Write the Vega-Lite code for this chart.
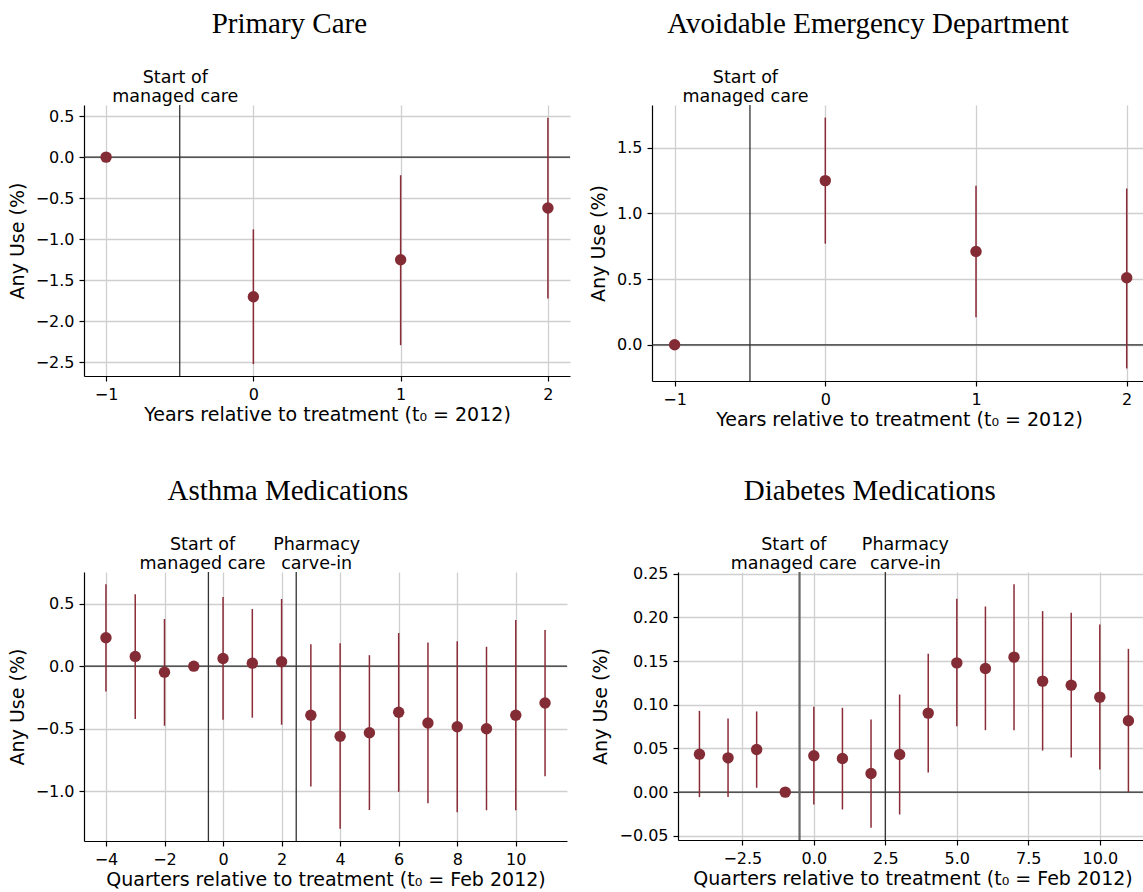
{
  "$schema": "https://vega.github.io/schema/vega-lite/v6.json",
  "padding": {"left": 8, "top": 9, "right": 0, "bottom": 0},
  "background": "white",
  "spacing": 47,
  "datasets": {
    "primary": [
      {"t": -1, "est": 0, "lo": 0, "hi": 0},
      {"t": 0, "est": -1.70, "lo": -2.52, "hi": -0.88},
      {"t": 1, "est": -1.25, "lo": -2.29, "hi": -0.22},
      {"t": 2, "est": -0.62, "lo": -1.72, "hi": 0.48}
    ],
    "ed": [
      {"t": -1, "est": 0, "lo": 0, "hi": 0},
      {"t": 0, "est": 1.25, "lo": 0.77, "hi": 1.73},
      {"t": 1, "est": 0.71, "lo": 0.21, "hi": 1.21},
      {"t": 2, "est": 0.51, "lo": -0.18, "hi": 1.19}
    ],
    "asthma": [
      {"t": -4, "est": 0.227, "lo": -0.203, "hi": 0.655},
      {"t": -3, "est": 0.078, "lo": -0.422, "hi": 0.575},
      {"t": -2, "est": -0.048, "lo": -0.476, "hi": 0.377},
      {"t": -1, "est": 0, "lo": 0, "hi": 0},
      {"t": 0, "est": 0.061, "lo": -0.428, "hi": 0.553},
      {"t": 1, "est": 0.024, "lo": -0.412, "hi": 0.457},
      {"t": 2, "est": 0.035, "lo": -0.468, "hi": 0.537},
      {"t": 3, "est": -0.393, "lo": -0.963, "hi": 0.176},
      {"t": 4, "est": -0.561, "lo": -1.30, "hi": 0.184},
      {"t": 5, "est": -0.532, "lo": -1.15, "hi": 0.088},
      {"t": 6, "est": -0.369, "lo": -1.005, "hi": 0.265},
      {"t": 7, "est": -0.455, "lo": -1.096, "hi": 0.19},
      {"t": 8, "est": -0.484, "lo": -1.168, "hi": 0.20},
      {"t": 9, "est": -0.5, "lo": -1.152, "hi": 0.155},
      {"t": 10, "est": -0.393, "lo": -1.152, "hi": 0.369},
      {"t": 11, "est": -0.294, "lo": -0.88, "hi": 0.289}
    ],
    "diabetes": [
      {"t": -4, "est": 0.0435, "lo": -0.0057, "hi": 0.0931},
      {"t": -3, "est": 0.0393, "lo": -0.0057, "hi": 0.0844},
      {"t": -2, "est": 0.0489, "lo": 0.005, "hi": 0.0924},
      {"t": -1, "est": 0, "lo": 0, "hi": 0},
      {"t": 0, "est": 0.0416, "lo": -0.0141, "hi": 0.0977},
      {"t": 1, "est": 0.0385, "lo": -0.0198, "hi": 0.0966},
      {"t": 2, "est": 0.0214, "lo": -0.0408, "hi": 0.0832},
      {"t": 3, "est": 0.0431, "lo": -0.0256, "hi": 0.1118},
      {"t": 4, "est": 0.0905, "lo": 0.0225, "hi": 0.1584},
      {"t": 5, "est": 0.148, "lo": 0.0756, "hi": 0.2214},
      {"t": 6, "est": 0.1416, "lo": 0.071, "hi": 0.2126},
      {"t": 7, "est": 0.1546, "lo": 0.071, "hi": 0.2382},
      {"t": 8, "est": 0.1271, "lo": 0.0477, "hi": 0.2073},
      {"t": 9, "est": 0.1225, "lo": 0.0397, "hi": 0.2053},
      {"t": 10, "est": 0.1088, "lo": 0.026, "hi": 0.192},
      {"t": 11, "est": 0.0817, "lo": 0.0, "hi": 0.1641}
    ]
  },
  "vconcat": [
    {
      "spacing": 18,
      "hconcat": [
        {
          "title": {"text": "Primary Care", "offset": 30},
          "width": 486, "height": 271,
          "layer": [
            {"data": {"values": [{}]}, "mark": {"type": "rule", "color": "#2b2b2b", "strokeWidth": 1.3},
             "encoding": {"y": {"datum": 0, "type": "quantitative", "scale": {"domain": [-2.665, 0.635], "nice": false, "zero": false}, "axis": {"title": "Any Use (%)", "values": [-2.5, -2, -1.5, -1, -0.5, 0, 0.5], "format": ".1f"}}}},
            {"data": {"values": [{}]}, "mark": {"type": "rule", "color": "#333333", "strokeWidth": 1.3},
             "encoding": {"x": {"datum": -0.5, "type": "quantitative", "scale": {"domain": [-1.15, 2.15], "nice": false, "zero": false}, "axis": {"title": "Years relative to treatment (t₀ = 2012)", "values": [-1, 0, 1, 2], "format": "d"}}}},
            {"data": {"name": "primary"}, "mark": {"type": "rule", "color": "#8a2c37", "strokeWidth": 1.5},
             "encoding": {
               "x": {"field": "t", "type": "quantitative", "scale": {"domain": [-1.15, 2.15], "nice": false, "zero": false}, "axis": {"title": "Years relative to treatment (t₀ = 2012)", "values": [-1, 0, 1, 2], "format": "d"}},
               "y": {"field": "lo", "type": "quantitative", "scale": {"domain": [-2.665, 0.635], "nice": false, "zero": false}, "axis": {"title": "Any Use (%)", "values": [-2.5, -2, -1.5, -1, -0.5, 0, 0.5], "format": ".1f"}},
               "y2": {"field": "hi"}}},
            {"data": {"name": "primary"}, "mark": {"type": "circle", "color": "#842c35", "size": 130, "opacity": 1},
             "encoding": {
               "x": {"field": "t", "type": "quantitative", "scale": {"domain": [-1.15, 2.15], "nice": false, "zero": false}, "axis": {"title": "Years relative to treatment (t₀ = 2012)", "values": [-1, 0, 1, 2], "format": "d"}},
               "y": {"field": "est", "type": "quantitative", "scale": {"domain": [-2.665, 0.635], "nice": false, "zero": false}, "axis": {"title": "Any Use (%)", "values": [-2.5, -2, -1.5, -1, -0.5, 0, 0.5], "format": ".1f"}}}},
            {"data": {"values": [{}]}, "mark": {"type": "text", "text": "Start of\nmanaged care", "lineBreak": "\n", "fontSize": 17.5, "baseline": "bottom", "align": "center", "lineHeight": 19.5, "color": "#000000"},
             "encoding": {
               "x": {"datum": -0.53, "type": "quantitative", "scale": {"domain": [-1.15, 2.15], "nice": false, "zero": false}},
               "y": {"datum": 0.858, "type": "quantitative", "scale": {"domain": [-2.665, 0.635], "nice": false, "zero": false}}}}
          ]
        },
        {
          "title": {"text": "Avoidable Emergency Department", "offset": 30},
          "width": 494, "height": 276,
          "layer": [
            {"data": {"values": [{}]}, "mark": {"type": "rule", "color": "#2b2b2b", "strokeWidth": 1.3},
             "encoding": {"y": {"datum": 0, "type": "quantitative", "scale": {"domain": [-0.2755, 1.8255], "nice": false, "zero": false}, "axis": {"title": "Any Use (%)", "values": [0, 0.5, 1, 1.5], "format": ".1f"}}}},
            {"data": {"values": [{}]}, "mark": {"type": "rule", "color": "#333333", "strokeWidth": 1.3},
             "encoding": {"x": {"datum": -0.5, "type": "quantitative", "scale": {"domain": [-1.15, 2.128], "nice": false, "zero": false}, "axis": {"title": "Years relative to treatment (t₀ = 2012)", "values": [-1, 0, 1, 2], "format": "d"}}}},
            {"data": {"name": "ed"}, "mark": {"type": "rule", "color": "#8a2c37", "strokeWidth": 1.5},
             "encoding": {
               "x": {"field": "t", "type": "quantitative", "scale": {"domain": [-1.15, 2.128], "nice": false, "zero": false}, "axis": {"title": "Years relative to treatment (t₀ = 2012)", "values": [-1, 0, 1, 2], "format": "d"}},
               "y": {"field": "lo", "type": "quantitative", "scale": {"domain": [-0.2755, 1.8255], "nice": false, "zero": false}, "axis": {"title": "Any Use (%)", "values": [0, 0.5, 1, 1.5], "format": ".1f"}},
               "y2": {"field": "hi"}}},
            {"data": {"name": "ed"}, "mark": {"type": "circle", "color": "#842c35", "size": 130, "opacity": 1},
             "encoding": {
               "x": {"field": "t", "type": "quantitative", "scale": {"domain": [-1.15, 2.128], "nice": false, "zero": false}, "axis": {"title": "Years relative to treatment (t₀ = 2012)", "values": [-1, 0, 1, 2], "format": "d"}},
               "y": {"field": "est", "type": "quantitative", "scale": {"domain": [-0.2755, 1.8255], "nice": false, "zero": false}, "axis": {"title": "Any Use (%)", "values": [0, 0.5, 1, 1.5], "format": ".1f"}}}},
            {"data": {"values": [{}]}, "mark": {"type": "text", "text": "Start of\nmanaged care", "lineBreak": "\n", "fontSize": 17.5, "baseline": "bottom", "align": "center", "lineHeight": 19.5, "color": "#000000"},
             "encoding": {
               "x": {"datum": -0.53, "type": "quantitative", "scale": {"domain": [-1.15, 2.128], "nice": false, "zero": false}},
               "y": {"datum": 1.965, "type": "quantitative", "scale": {"domain": [-0.2755, 1.8255], "nice": false, "zero": false}}}}
          ]
        }
      ]
    },
    {
      "spacing": 23,
      "hconcat": [
        {
          "title": {"text": "Asthma Medications", "offset": 30},
          "width": 483, "height": 269,
          "layer": [
            {"data": {"values": [{}]}, "mark": {"type": "rule", "color": "#2b2b2b", "strokeWidth": 1.3},
             "encoding": {"y": {"datum": 0, "type": "quantitative", "scale": {"domain": [-1.398, 0.753], "nice": false, "zero": false}, "axis": {"title": "Any Use (%)", "values": [-1, -0.5, 0, 0.5], "format": ".1f"}}}},
            {"data": {"values": [{}]}, "mark": {"type": "rule", "color": "#333333", "strokeWidth": 1.3},
             "encoding": {"x": {"datum": -0.5, "type": "quantitative", "scale": {"domain": [-4.75, 11.75], "nice": false, "zero": false}, "axis": {"title": "Quarters relative to treatment (t₀ = Feb 2012)", "values": [-4, -2, 0, 2, 4, 6, 8, 10], "format": "d"}}}},
            {"data": {"values": [{}]}, "mark": {"type": "rule", "color": "#333333", "strokeWidth": 1.3},
             "encoding": {"x": {"datum": 2.5, "type": "quantitative", "scale": {"domain": [-4.75, 11.75], "nice": false, "zero": false}}}},
            {"data": {"name": "asthma"}, "mark": {"type": "rule", "color": "#8a2c37", "strokeWidth": 1.5},
             "encoding": {
               "x": {"field": "t", "type": "quantitative", "scale": {"domain": [-4.75, 11.75], "nice": false, "zero": false}, "axis": {"title": "Quarters relative to treatment (t₀ = Feb 2012)", "values": [-4, -2, 0, 2, 4, 6, 8, 10], "format": "d"}},
               "y": {"field": "lo", "type": "quantitative", "scale": {"domain": [-1.398, 0.753], "nice": false, "zero": false}, "axis": {"title": "Any Use (%)", "values": [-1, -0.5, 0, 0.5], "format": ".1f"}},
               "y2": {"field": "hi"}}},
            {"data": {"name": "asthma"}, "mark": {"type": "circle", "color": "#842c35", "size": 130, "opacity": 1},
             "encoding": {
               "x": {"field": "t", "type": "quantitative", "scale": {"domain": [-4.75, 11.75], "nice": false, "zero": false}, "axis": {"title": "Quarters relative to treatment (t₀ = Feb 2012)", "values": [-4, -2, 0, 2, 4, 6, 8, 10], "format": "d"}},
               "y": {"field": "est", "type": "quantitative", "scale": {"domain": [-1.398, 0.753], "nice": false, "zero": false}, "axis": {"title": "Any Use (%)", "values": [-1, -0.5, 0, 0.5], "format": ".1f"}}}},
            {"data": {"values": [{}]}, "mark": {"type": "text", "text": "Start of\nmanaged care", "lineBreak": "\n", "fontSize": 17.5, "baseline": "bottom", "align": "center", "lineHeight": 19.5, "color": "#000000"},
             "encoding": {
               "x": {"datum": -0.7, "type": "quantitative", "scale": {"domain": [-4.75, 11.75], "nice": false, "zero": false}},
               "y": {"datum": 0.899, "type": "quantitative", "scale": {"domain": [-1.398, 0.753], "nice": false, "zero": false}}}},
            {"data": {"values": [{}]}, "mark": {"type": "text", "text": "Pharmacy\ncarve-in", "lineBreak": "\n", "fontSize": 17.5, "baseline": "bottom", "align": "center", "lineHeight": 19.5, "color": "#000000"},
             "encoding": {
               "x": {"datum": 3.2, "type": "quantitative", "scale": {"domain": [-4.75, 11.75], "nice": false, "zero": false}},
               "y": {"datum": 0.899, "type": "quantitative", "scale": {"domain": [-1.398, 0.753], "nice": false, "zero": false}}}}
          ]
        },
        {
          "title": {"text": "Diabetes Medications", "offset": 30},
          "width": 469, "height": 268,
          "layer": [
            {"data": {"values": [{}]}, "mark": {"type": "rule", "color": "#2b2b2b", "strokeWidth": 1.3},
             "encoding": {"y": {"datum": 0, "type": "quantitative", "scale": {"domain": [-0.0548, 0.2521], "nice": false, "zero": false}, "axis": {"title": "Any Use (%)", "values": [-0.05, 0, 0.05, 0.1, 0.15, 0.2, 0.25], "format": ".2f"}}}},
            {"data": {"values": [{}]}, "mark": {"type": "rule", "color": "#666666", "strokeWidth": 2.2},
             "encoding": {"x": {"datum": -0.5, "type": "quantitative", "scale": {"domain": [-4.75, 11.65], "nice": false, "zero": false}, "axis": {"title": "Quarters relative to treatment (t₀ = Feb 2012)", "values": [-2.5, 0, 2.5, 5, 7.5, 10], "format": ".1f"}}}},
            {"data": {"values": [{}]}, "mark": {"type": "rule", "color": "#333333", "strokeWidth": 1.3},
             "encoding": {"x": {"datum": 2.5, "type": "quantitative", "scale": {"domain": [-4.75, 11.65], "nice": false, "zero": false}}}},
            {"data": {"name": "diabetes"}, "mark": {"type": "rule", "color": "#8a2c37", "strokeWidth": 1.5},
             "encoding": {
               "x": {"field": "t", "type": "quantitative", "scale": {"domain": [-4.75, 11.65], "nice": false, "zero": false}, "axis": {"title": "Quarters relative to treatment (t₀ = Feb 2012)", "values": [-2.5, 0, 2.5, 5, 7.5, 10], "format": ".1f"}},
               "y": {"field": "lo", "type": "quantitative", "scale": {"domain": [-0.0548, 0.2521], "nice": false, "zero": false}, "axis": {"title": "Any Use (%)", "values": [-0.05, 0, 0.05, 0.1, 0.15, 0.2, 0.25], "format": ".2f"}},
               "y2": {"field": "hi"}}},
            {"data": {"name": "diabetes"}, "mark": {"type": "circle", "color": "#842c35", "size": 130, "opacity": 1},
             "encoding": {
               "x": {"field": "t", "type": "quantitative", "scale": {"domain": [-4.75, 11.65], "nice": false, "zero": false}, "axis": {"title": "Quarters relative to treatment (t₀ = Feb 2012)", "values": [-2.5, 0, 2.5, 5, 7.5, 10], "format": ".1f"}},
               "y": {"field": "est", "type": "quantitative", "scale": {"domain": [-0.0548, 0.2521], "nice": false, "zero": false}, "axis": {"title": "Any Use (%)", "values": [-0.05, 0, 0.05, 0.1, 0.15, 0.2, 0.25], "format": ".2f"}}}},
            {"data": {"values": [{}]}, "mark": {"type": "text", "text": "Start of\nmanaged care", "lineBreak": "\n", "fontSize": 17.5, "baseline": "bottom", "align": "center", "lineHeight": 19.5, "color": "#000000"},
             "encoding": {
               "x": {"datum": -0.7, "type": "quantitative", "scale": {"domain": [-4.75, 11.65], "nice": false, "zero": false}},
               "y": {"datum": 0.2731, "type": "quantitative", "scale": {"domain": [-0.0548, 0.2521], "nice": false, "zero": false}}}},
            {"data": {"values": [{}]}, "mark": {"type": "text", "text": "Pharmacy\ncarve-in", "lineBreak": "\n", "fontSize": 17.5, "baseline": "bottom", "align": "center", "lineHeight": 19.5, "color": "#000000"},
             "encoding": {
               "x": {"datum": 3.2, "type": "quantitative", "scale": {"domain": [-4.75, 11.65], "nice": false, "zero": false}},
               "y": {"datum": 0.2731, "type": "quantitative", "scale": {"domain": [-0.0548, 0.2521], "nice": false, "zero": false}}}}
          ]
        }
      ]
    }
  ],
  "config": {
    "font": "DejaVu Sans",
    "view": {"stroke": null},
    "axis": {
      "domainColor": "#000000", "domainWidth": 1.2,
      "tickColor": "#000000", "tickSize": 5, "tickWidth": 1.2,
      "labelFont": "DejaVu Sans", "labelFontSize": 16, "labelColor": "#000000", "labelPadding": 5,
      "labelFlush": false, "labelOverlap": false,
      "titleFont": "DejaVu Sans", "titleFontSize": 19, "titleFontWeight": "normal", "titleColor": "#000000",
      "grid": true, "gridColor": "#cfcfcf", "gridWidth": 1.3
    },
    "axisY": {"titlePadding": 8},
    "axisX": {"titlePadding": 3},
    "title": {"font": "Liberation Serif", "fontSize": 29, "fontWeight": "normal", "color": "#000000", "anchor": "middle", "frame": "bounds"}
  }
}
